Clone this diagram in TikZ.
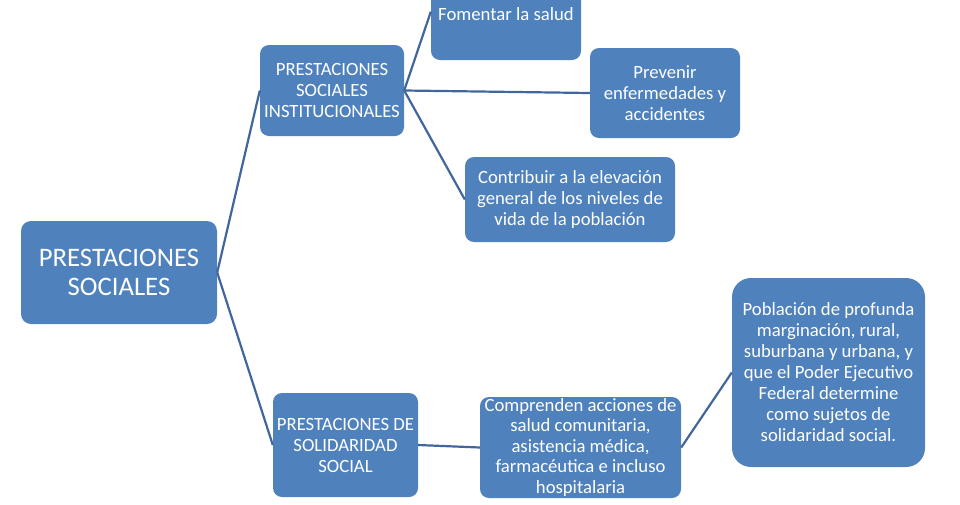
\documentclass[tikz,border=0pt]{standalone}
\usepackage{fontspec}
\setmainfont{Carlito}
\usepackage{tikz}
\definecolor{boxblue}{HTML}{4F81BD}
\definecolor{linkblue}{HTML}{41669E}
\tikzstyle{box} = [rectangle, rounded corners=9pt, inner sep=0pt, align=center, text=white, fill=boxblue,
font=\fontsize{18.7}{21}\selectfont]
\tikzstyle{rootbox} = [box, rounded corners=10pt, font=\fontsize{26.7}{29}\selectfont]
\tikzstyle{link} = [draw=linkblue, line width=2.2pt]

\begin{document}
\begin{tikzpicture}[x=1pt, y=-1pt]
    \useasboundingbox (0,0) rectangle (960,504);

    \node(Root)[rootbox, minimum width=196pt, minimum height=103pt] at (119,272.5) {PRESTACIONES\\ SOCIALES};

    \node(Institucional)[box, minimum width=144pt, minimum height=91pt] at (332,90.5)
      {PRESTACIONES\\ SOCIALES\\ INSTITUCIONALES};

    \node(Solidaridad)[box, minimum width=145pt, minimum height=104pt] at (345.5,445)
      {PRESTACIONES DE\\ SOLIDARIDAD\\ SOCIAL};

    \node(Fomentar)[box, minimum width=150pt, minimum height=70pt] at (506,25) {Fomentar la salud\\ ~};

    \node(Prevenir)[box, minimum width=150pt, minimum height=90pt] at (665,93)
      {Prevenir\\ enfermedades y\\ accidentes};

    \node(Contribuir)[box, minimum width=210pt, minimum height=85pt] at (570,199.5)
      {Contribuir a la elevación\\ general de los niveles de\\ vida de la población};

    \node(Comprenden)[box, minimum width=201pt, minimum height=101pt, font=\fontsize{18.7}{20.5}\selectfont]
      at (580.5,447.5)
      {Comprenden acciones de\\ salud comunitaria,\\ asistencia médica,\\ farmacéutica e incluso\\ hospitalaria};

    \node(Poblacion)[box, rounded corners=19pt, minimum width=193pt, minimum height=189pt] at (828.5,372.5)
      {Población de profunda\\ marginación, rural,\\ suburbana y urbana, y\\ que el Poder Ejecutivo\\
       Federal determine\\ como sujetos de\\ solidaridad social.};

    % connectors
    \path (Root.east) edge[link] (Institucional.west);
    \path (Root.east) edge[link] (Solidaridad.west);
    \path (Institucional.east) edge[link] (Fomentar.170);
    \path (Institucional.east) edge[link] (Prevenir.west);
    \path (Institucional.east) edge[link] (Contribuir.west);
    \path (Solidaridad.east) edge[link] (Comprenden.west);
    \path (Comprenden.east) edge[link] (Poblacion.west);

\end{tikzpicture}
\end{document}
